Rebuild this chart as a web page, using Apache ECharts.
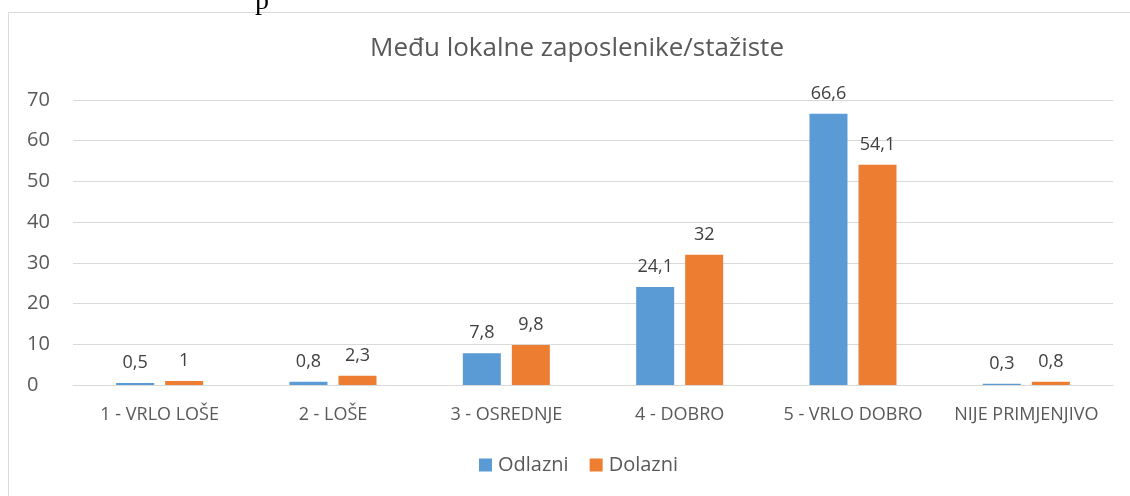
<!DOCTYPE html>
<html>
<head>
<meta charset="utf-8">
<script src="https://cdn.jsdelivr.net/npm/echarts@6/dist/echarts.min.js"></script>
<style>
  html, body { margin: 0; padding: 0; background: #fff; }
  #chart { width: 1130px; height: 496px; }
</style>
</head>
<body>
<div id="chart"></div>
<script>
// podaci s grafa
const categories = ['1 - VRLO LOŠE', '2 - LOŠE', '3 - OSREDNJE', '4 - DOBRO', '5 - VRLO DOBRO', 'NIJE PRIMJENJIVO'];
const odlazni = [0.5, 0.8, 7.8, 24.1, 66.6, 0.3];
const dolazni = [1, 2.3, 9.8, 32, 54.1, 0.8];
const seriesNames = ['Odlazni', 'Dolazni'];
const titleText = 'Među lokalne zaposlenike/stažiste';

const font = '"Open Sans", "Noto Sans", sans-serif';
const fmt = p => String(p.value).replace('.', ',');

let myChart = echarts.init(document.getElementById('chart'));
let option = {
  animation: false,
  textStyle: { fontFamily: font },
  graphic: [
    {
      type: 'rect',
      shape: { x: 8.5, y: 12.5, width: 1140, height: 500 },
      style: { fill: 'none', stroke: '#d9d9d9', lineWidth: 1 },
      silent: true
    },
    {
      // ostatak teksta iznad grafa
      type: 'text',
      left: 255, top: -12,
      style: { text: 'p', font: '28px "Liberation Serif", serif', fill: '#000' }
    }
  ],
  title: {
    text: titleText,
    left: 572,
    textAlign: 'center',
    top: 31,
    textStyle: { fontFamily: font, fontSize: 26, fontWeight: 'normal', color: '#595959' }
  },
  legend: {
    bottom: 16,
    left: 474,
    itemWidth: 13,
    itemHeight: 13,
    itemGap: 21,
    icon: 'rect',
    textStyle: { fontFamily: font, fontSize: 20, color: '#595959', padding: [0, 0, 0, 1] },
    data: seriesNames
  },
  grid: { top: 100, left: 73, right: 17, bottom: 111 },
  xAxis: {
    type: 'category',
    data: categories,
    axisLine: { lineStyle: { color: '#d9d9d9' } },
    axisTick: { show: false },
    axisLabel: { interval: 0, fontFamily: font, fontSize: 18, color: '#595959', margin: 21 }
  },
  yAxis: {
    type: 'value',
    min: 0, max: 70, interval: 10,
    axisLine: { show: false },
    axisTick: { show: false },
    splitLine: { lineStyle: { color: '#d9d9d9' } },
    axisLabel: { fontFamily: font, fontSize: 20, color: '#595959', margin: 46, align: 'left' }
  },
  series: [
    {
      name: seriesNames[0], type: 'bar', data: odlazni,
      barWidth: 38, barGap: '29%',
      itemStyle: { color: '#5b9bd5' },
      label: { show: true, position: 'top', distance: 11, formatter: fmt, fontFamily: font, fontSize: 18, color: '#404040' }
    },
    {
      name: seriesNames[1], type: 'bar', data: dolazni,
      barWidth: 38,
      itemStyle: { color: '#ed7d31' },
      label: { show: true, position: 'top', distance: 11, formatter: fmt, fontFamily: font, fontSize: 18, color: '#404040' }
    }
  ]
};
myChart.setOption(option);
</script>
</body>
</html>
